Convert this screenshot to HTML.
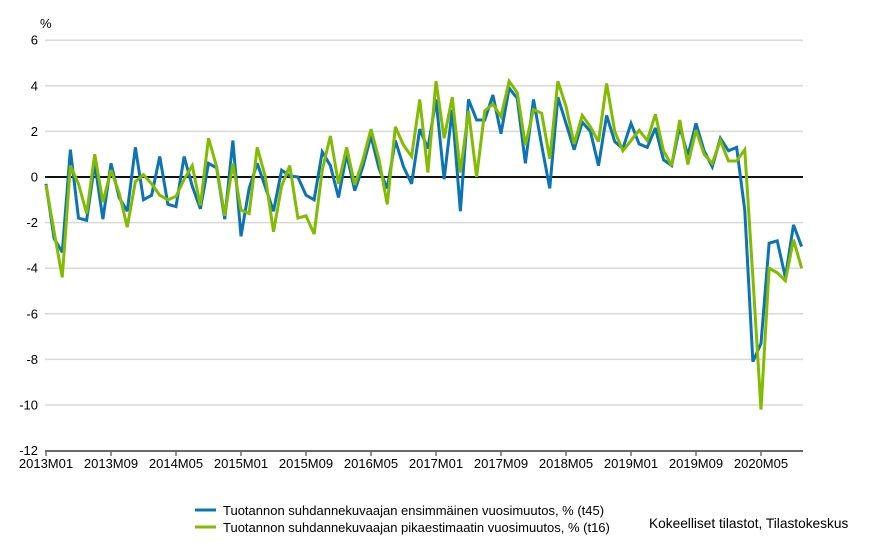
<!DOCTYPE html>
<html>
<head>
<meta charset="utf-8">
<style>
html,body{margin:0;padding:0;background:#fff;}
svg{display:block;}
text{font-family:"Liberation Sans",Arial,sans-serif;font-size:13px;fill:#000;}
</style>
</head>
<body>
<svg width="876" height="552" viewBox="0 0 876 552" xmlns="http://www.w3.org/2000/svg">
  <!-- gridlines -->
  <g stroke="#d9d9d6" stroke-width="1.5">
    <line x1="45" y1="40.2" x2="803" y2="40.2"/>
    <line x1="45" y1="85.8" x2="803" y2="85.8"/>
    <line x1="45" y1="131.4" x2="803" y2="131.4"/>
    <line x1="45" y1="222.6" x2="803" y2="222.6"/>
    <line x1="45" y1="268.2" x2="803" y2="268.2"/>
    <line x1="45" y1="313.8" x2="803" y2="313.8"/>
    <line x1="45" y1="359.4" x2="803" y2="359.4"/>
    <line x1="45" y1="405" x2="803" y2="405"/>
  </g>
  <!-- zero line -->
  <line x1="45" y1="177" x2="803" y2="177" stroke="#111" stroke-width="2"/>
  <!-- x axis -->
  <line x1="45" y1="451" x2="803" y2="451" stroke="#6a6a6a" stroke-width="2"/>
  <g stroke="#6a6a6a" stroke-width="1.5">
    <line x1="46" y1="451" x2="46" y2="456"/>
    <line x1="111" y1="451" x2="111" y2="456"/>
    <line x1="176" y1="451" x2="176" y2="456"/>
    <line x1="241" y1="451" x2="241" y2="456"/>
    <line x1="306" y1="451" x2="306" y2="456"/>
    <line x1="371" y1="451" x2="371" y2="456"/>
    <line x1="436" y1="451" x2="436" y2="456"/>
    <line x1="501" y1="451" x2="501" y2="456"/>
    <line x1="566" y1="451" x2="566" y2="456"/>
    <line x1="631" y1="451" x2="631" y2="456"/>
    <line x1="696" y1="451" x2="696" y2="456"/>
    <line x1="761" y1="451" x2="761" y2="456"/>
  </g>
  <!-- y labels -->
  <g text-anchor="end">
    <text x="38" y="44.7">6</text>
    <text x="38" y="90.3">4</text>
    <text x="38" y="135.9">2</text>
    <text x="38" y="181.5">0</text>
    <text x="38" y="227.1">-2</text>
    <text x="38" y="272.7">-4</text>
    <text x="38" y="318.3">-6</text>
    <text x="38" y="363.9">-8</text>
    <text x="38" y="409.5">-10</text>
    <text x="38" y="455.1">-12</text>
  </g>
  <text x="40" y="28">%</text>
  <!-- x labels -->
  <g text-anchor="middle">
    <text x="46" y="468">2013M01</text>
    <text x="111" y="468">2013M09</text>
    <text x="176" y="468">2014M05</text>
    <text x="241" y="468">2015M01</text>
    <text x="306" y="468">2015M09</text>
    <text x="371" y="468">2016M05</text>
    <text x="436" y="468">2017M01</text>
    <text x="501" y="468">2017M09</text>
    <text x="566" y="468">2018M05</text>
    <text x="631" y="468">2019M01</text>
    <text x="696" y="468">2019M09</text>
    <text x="761" y="468">2020M05</text>
  </g>
  <!-- series -->
  <g transform="translate(46,177) scale(8.125,-22.8)" fill="none" stroke-linejoin="miter" stroke-miterlimit="3">
    <polyline vector-effect="non-scaling-stroke" stroke="#0c74b4" stroke-width="3" points="0,-0.3 1,-2.7 2,-3.3 3,1.2 4,-1.8 5,-1.9 6,0.6 7,-1.85 8,0.6 9,-0.9 10,-1.5 11,1.3 12,-1.0 13,-0.8 14,0.9 15,-1.2 16,-1.3 17,0.9 18,-0.4 19,-1.4 20,0.6 21,0.4 22,-1.85 23,1.6 24,-2.6 25,-0.5 26,0.6 27,-0.45 28,-1.5 29,0.3 30,0.05 31,0 32,-0.8 33,-1.0 34,1.1 35,0.5 36,-0.9 37,1.0 38,-0.6 39,0.45 40,1.8 41,0.35 42,-0.5 43,1.6 44,0.45 45,-0.3 46,2.1 47,1.25 48,3.4 49,-0.1 50,2.95 51,-1.5 52,3.4 53,2.5 54,2.5 55,3.6 56,1.9 57,3.9 58,3.45 59,0.6 60,3.4 61,1.4 62,-0.5 63,3.5 64,2.35 65,1.2 66,2.4 67,2.0 68,0.5 69,2.7 70,1.55 71,1.25 72,2.35 73,1.45 74,1.3 75,2.15 76,0.75 77,0.5 78,2.2 79,0.95 80,2.35 81,1.15 82,0.45 83,1.7 84,1.15 85,1.3 86,-1.45 87,-8.1 88,-7.3 89,-2.9 90,-2.8 91,-4.4 92,-2.1 93,-3.05"/>
    <polyline vector-effect="non-scaling-stroke" stroke="#82bc00" stroke-width="3" points="0,-0.35 1,-2.4 2,-4.4 3,0.5 4,-0.3 5,-1.6 6,1.0 7,-1.1 8,0.3 9,-0.7 10,-2.2 11,-0.2 12,0.1 13,-0.3 14,-0.8 15,-1.0 16,-0.85 17,-0.1 18,0.5 19,-1.25 20,1.7 21,0.45 22,-1.7 23,0.6 24,-1.45 25,-1.6 26,1.3 27,0.0 28,-2.4 29,-0.4 30,0.5 31,-1.8 32,-1.7 33,-2.5 34,0.3 35,1.8 36,-0.3 37,1.3 38,-0.35 39,0.75 40,2.1 41,0.75 42,-1.2 43,2.2 44,1.4 45,0.9 46,3.4 47,0.2 48,4.2 49,1.7 50,3.5 51,0.2 52,2.9 53,0.0 54,2.9 55,3.2 56,2.65 57,4.2 58,3.7 59,1.4 60,2.95 61,2.8 62,0.8 63,4.2 64,3.1 65,1.45 66,2.7 67,2.2 68,1.55 69,4.1 70,2.0 71,1.15 72,1.6 73,2.05 74,1.6 75,2.75 76,1.15 77,0.5 78,2.5 79,0.55 80,2.05 81,1.0 82,0.6 83,1.6 84,0.7 85,0.7 86,1.2 87,-4.4 88,-10.2 89,-4.0 90,-4.2 91,-4.55 92,-2.75 93,-4.0"/>
  </g>
  <!-- legend -->
  <line x1="195" y1="510" x2="216" y2="510" stroke="#0c74b4" stroke-width="3"/>
  <text x="223" y="515">Tuotannon suhdannekuvaajan ensimmäinen vuosimuutos, % (t45)</text>
  <line x1="195" y1="527" x2="216" y2="527" stroke="#82bc00" stroke-width="3"/>
  <text x="223" y="532">Tuotannon suhdannekuvaajan pikaestimaatin vuosimuutos, % (t16)</text>
  <text x="649" y="528" style="font-size:13.7px">Kokeelliset tilastot, Tilastokeskus</text>
</svg>
</body>
</html>
